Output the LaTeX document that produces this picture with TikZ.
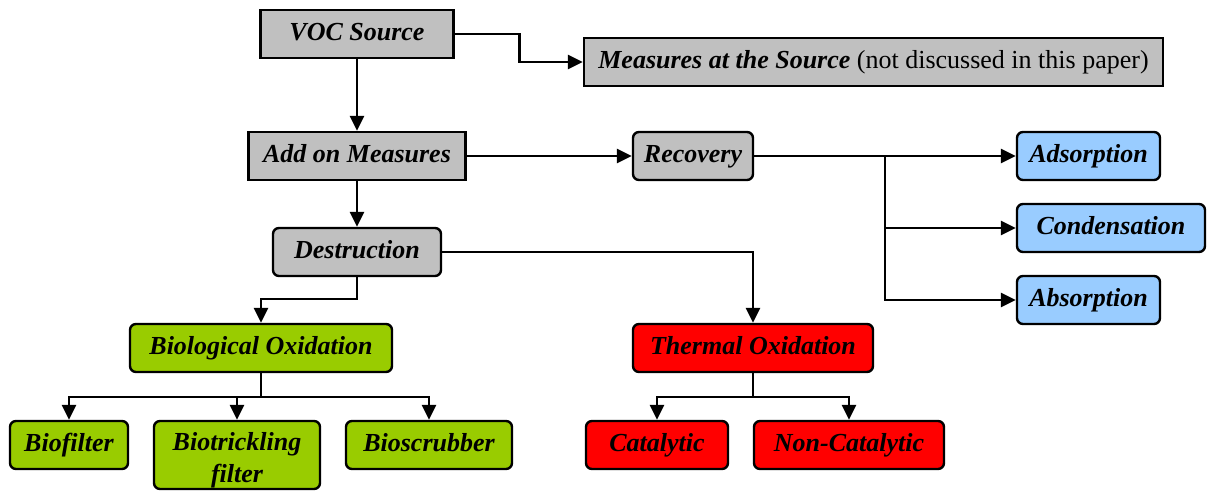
\documentclass[tikz,border=0pt]{standalone}
\usepackage{fontspec}
\setmainfont{LiberationSerif}[
    Extension=.ttf,
    UprightFont=*-Regular,
    BoldFont=*-Bold,
    ItalicFont=*-Italic,
    BoldItalicFont=*-BoldItalic]
\usetikzlibrary{arrows.meta, positioning, calc}

\definecolor{boxgray}{HTML}{C0C0C0}
\definecolor{boxblue}{HTML}{99CCFF}
\definecolor{boxgreen}{HTML}{99CC00}
\definecolor{boxred}{HTML}{FF0000}

\begin{document}
\begin{tikzpicture}[x=1pt, y=-1pt,
    font=\fontsize{26}{29}\selectfont\bfseries\itshape,
    box/.style={draw, line width=2.4pt, inner sep=0pt, minimum height=48pt,
        text height=21pt, text depth=9pt},
    sqbox/.style={box, fill=boxgray},
    graybox/.style={box, fill=boxgray, rounded corners=6pt},
    bluebox/.style={box, fill=boxblue, rounded corners=6pt},
    greenbox/.style={box, fill=boxgreen, rounded corners=6pt},
    redbox/.style={box, fill=boxred, rounded corners=6pt},
    arr/.style={-{Triangle[length=15pt, width=14pt]}, line width=2.5pt},
    link/.style={line width=2.5pt}]
    \useasboundingbox (0,0) rectangle (1207,491);

    % top row
    \node[sqbox, minimum width=193pt] (voc) at (357, 34) {VOC Source};
    \node[sqbox, minimum width=579pt] (src) at (873.5, 62)
        {Measures at the Source \normalfont(not discussed in this paper)};

    % add on measures and recovery
    \node[sqbox, minimum width=217pt] (add) at (357, 156) {Add on Measures};
    \node[graybox, minimum width=120pt] (rec) at (693, 156) {Recovery};
    \node[bluebox, minimum width=143pt] (ads) at (1088.5, 156) {Adsorption};
    \node[bluebox, minimum width=188pt] (con) at (1111, 228) {Condensation};
    \node[bluebox, minimum width=143pt] (abs) at (1088.5, 300) {Absorption};

    % destruction
    \node[graybox, minimum width=168pt] (des) at (357, 252) {Destruction};
    \node[greenbox, minimum width=262pt] (bio) at (261, 348) {Biological Oxidation};
    \node[redbox, minimum width=240pt] (the) at (753, 348) {Thermal Oxidation};

    % bottom row
    \node[greenbox, minimum width=118pt] (bf) at (69, 445) {Biofilter};
    \node[greenbox, minimum width=166pt, minimum height=68pt, align=center,
        text height=61pt, text depth=7pt] (btf) at (237, 455) {Biotrickling\\[3pt]filter};
    \node[greenbox, minimum width=166pt] (bs) at (429, 445) {Bioscrubber};
    \node[redbox, minimum width=142pt] (cat) at (657, 445) {Catalytic};
    \node[redbox, minimum width=190pt] (nc) at (849, 445) {Non-Catalytic};

    \coordinate (rj) at (885, 156);
    \coordinate (bj) at (261, 397);
    \coordinate (tj) at (753, 397);

    % connectors
    \draw[arr] (voc) -- (add);
    \draw[arr] (voc.east) -- ++(65,0) |- (src.west);
    \draw[arr] (add) -- (rec);
    \draw[arr] (add) -- (des);
    \draw[link] (rec) -- (rj);
    \draw[arr] (rj) -- (ads);
    \draw[arr] (rj) |- (con);
    \draw[arr] (rj) |- (abs);
    \draw[arr] (des.east) -| (the.north);
    \draw[arr] (des.south) -- ++(0,22) -| (bio.north);
    \draw[link] (bio) -- (bj);
    \draw[arr] (bj) -| (bf.north);
    \draw[arr] (bj) -| (btf.north);
    \draw[arr] (bj) -| (bs.north);
    \draw[link] (the) -- (tj);
    \draw[arr] (tj) -| (cat.north);
    \draw[arr] (tj) -| (nc.north);
\end{tikzpicture}
\end{document}
